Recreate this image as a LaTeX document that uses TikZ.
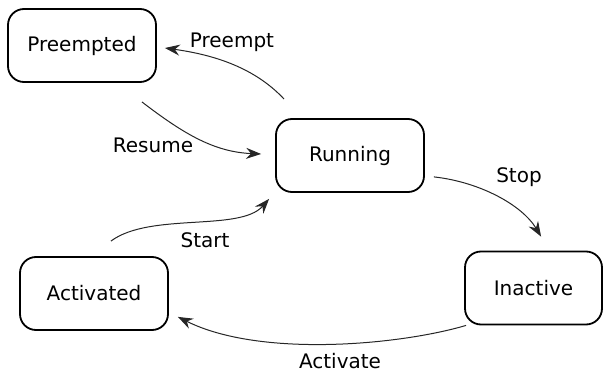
\documentclass[tikz,border=0pt]{standalone}
\usepackage{fontspec}
\setmainfont{DejaVu Sans}
\usetikzlibrary{arrows.meta}
\begin{document}
\begin{tikzpicture}[x=1pt,y=-1pt,
  state/.style={draw, rounded corners=16pt, line width=1.8pt, minimum height=73pt, font=\fontsize{20}{24}\selectfont, inner sep=0pt},
  trans/.style={line width=1pt, draw=black!85, -{Stealth[length=15pt,width=11pt,inset=5pt]}},
  lbl/.style={font=\fontsize{20}{24}\selectfont, inner sep=0pt}]
\useasboundingbox (0,0) rectangle (603,374);
\node[state, minimum width=148pt] (pre) at (82,45.5) {Preempted};
\node[state, minimum width=148pt] (run) at (350,155.5) {Running};
\node[state, minimum width=137pt] (ina) at (533.5,288) {Inactive};
\node[state, minimum width=148pt] (act) at (94,293.5) {Activated};

\draw[trans] ([xshift=9pt,yshift=19pt]run.north west) .. controls (255,68) and (215,55) .. ([xshift=8pt,yshift=-2.5pt]pre.east);
\draw[trans] ([xshift=-15pt,yshift=-19pt]pre.south east) .. controls (185,135) and (215,152) .. ([xshift=-14pt,yshift=1.5pt]run.west);
\draw[trans] ([xshift=9pt,yshift=16pt]run.south east) .. controls (480,182) and (522,205) .. ([xshift=77pt,yshift=14pt]ina.north west);
\draw[trans] ([xshift=2pt,yshift=0pt]ina.south west) .. controls (400,345) and (260,358) .. ([xshift=9pt,yshift=14pt]act.south east);
\draw[trans] ([xshift=-58pt,yshift=15pt]act.north east) .. controls (150,212) and (240,232) .. ([xshift=-6pt,yshift=-6pt]run.south west);

\node[lbl] (lpre) at (232,42) {Preempt};
\node[lbl] (lres) at (153,145) {Resume};
\node[lbl] (lsto) at (519,177) {Stop};
\node[lbl] (lact) at (340,361) {Activate};
\node[lbl] (lsta) at (205,240) {Start};
\end{tikzpicture}
\end{document}
